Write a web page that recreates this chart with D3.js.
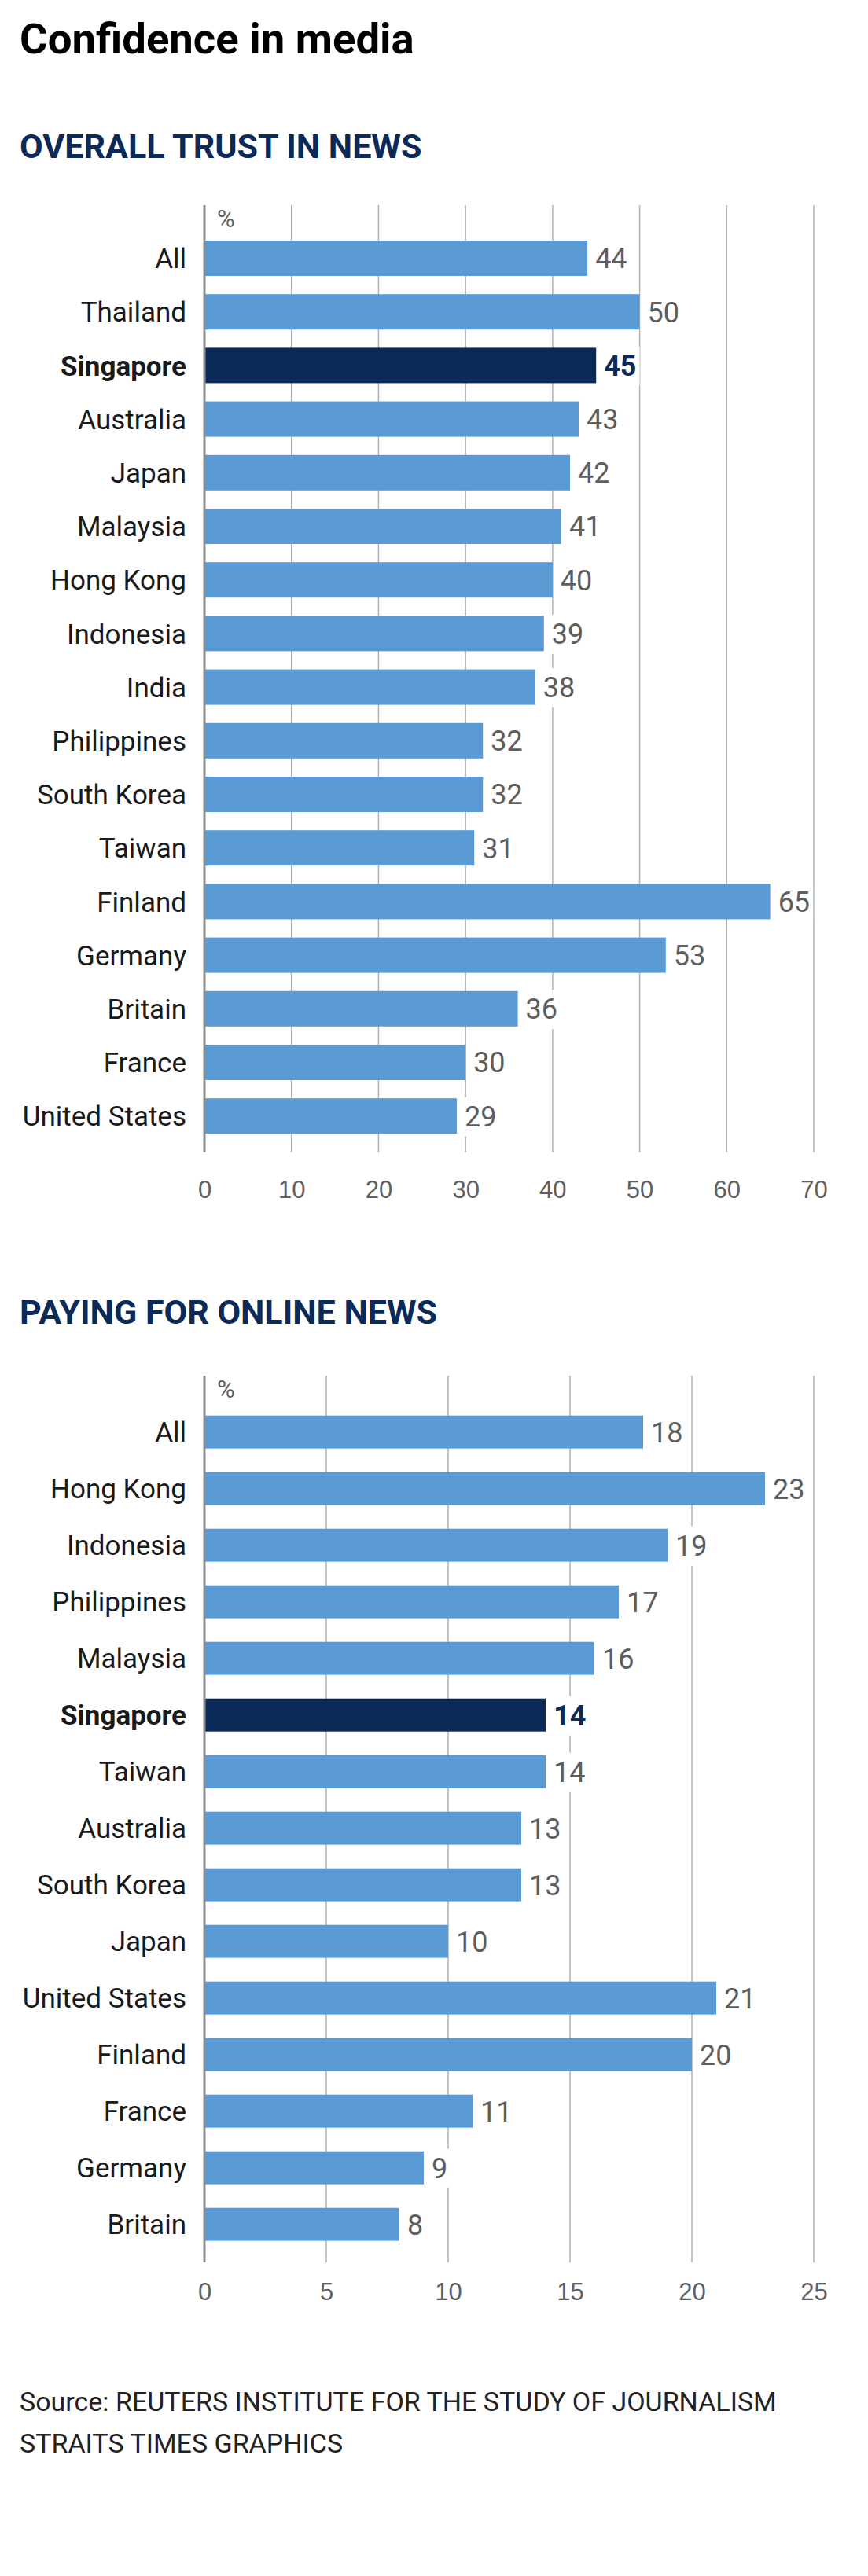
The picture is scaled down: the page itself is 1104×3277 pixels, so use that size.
<!DOCTYPE html>
<html>
<head>
<meta charset="utf-8">
<script src="https://cdn.jsdelivr.net/npm/d3@7"></script>
<style>
  html, body { margin: 0; padding: 0; background: #fff; }
  svg { display: block; font-family: Roboto, "Open Sans", "Liberation Sans", sans-serif; }
</style>
</head>
<body>
<svg id="chart" width="1104" height="3277"></svg>
<script>
// ---------- DATA ----------
const title = "Confidence in media";
const trustTitle = "OVERALL TRUST IN NEWS";
const trustCategories = ["All", "Thailand", "Singapore", "Australia", "Japan", "Malaysia", "Hong Kong", "Indonesia", "India", "Philippines", "South Korea", "Taiwan", "Finland", "Germany", "Britain", "France", "United States"];
const trustValues = [44, 50, 45, 43, 42, 41, 40, 39, 38, 32, 32, 31, 65, 53, 36, 30, 29];
const trustTicks = [0, 10, 20, 30, 40, 50, 60, 70];

const payTitle = "PAYING FOR ONLINE NEWS";
const payCategories = ["All", "Hong Kong", "Indonesia", "Philippines", "Malaysia", "Singapore", "Taiwan", "Australia", "South Korea", "Japan", "United States", "Finland", "France", "Germany", "Britain"];
const payValues = [18, 23, 19, 17, 16, 14, 14, 13, 13, 10, 21, 20, 11, 9, 8];
const payTicks = [0, 5, 10, 15, 20, 25];

const highlighted = "Singapore";
const unitLabel = "%";
const sourceLines = ["Source: REUTERS INSTITUTE FOR THE STUDY OF JOURNALISM", "STRAITS TIMES GRAPHICS"];

// ---------- STYLE ----------
const C = {
  bar: "#5b9bd5",
  hi: "#0c2a57",
  heading: "#0c2a57",
  label: "#1a1a1a",
  value: "#5e5e5e",
  tick: "#606060",
  grid: "#b0b0b0",
  axis: "#8c8c8c"
};

const svg = d3.select("#chart");
svg.append("rect").attr("width", 1104).attr("height", 3277).attr("fill", "#fff");

svg.append("text").attr("x", 25).attr("y", 68)
  .attr("font-size", 54.5).attr("font-weight", 700).attr("fill", "#000")
  .text(title);

function drawChart(cfg) {
  const g = svg.append("g");
  g.append("text").attr("x", 25).attr("y", cfg.headY)
    .attr("font-size", 43).attr("font-weight", 700).attr("fill", C.heading)
    .text(cfg.heading);

  const x = d3.scaleLinear().domain([0, cfg.ticks[cfg.ticks.length - 1]]).range([260, 1035]);
  const y = d3.scaleBand().domain(cfg.cats).range([cfg.bandTop, cfg.bandTop + cfg.step * cfg.cats.length])
    .paddingInner(cfg.pad).paddingOuter(cfg.pad / 2);

  // gridlines
  g.append("g").selectAll("line").data(cfg.ticks.slice(1)).join("line")
    .attr("x1", d => x(d)).attr("x2", d => x(d))
    .attr("y1", cfg.gridTop).attr("y2", cfg.gridBottom)
    .attr("stroke", C.grid).attr("stroke-width", 1.5);

  // unit label
  g.append("text").attr("x", 276).attr("y", cfg.unitY).attr("dy", "0.36em")
    .attr("font-size", 31).attr("font-weight", 400).attr("fill", C.tick).text(unitLabel);

  const data = cfg.cats.map((c, i) => ({ c, v: cfg.vals[i] }));

  // bars
  g.append("g").selectAll("rect").data(data).join("rect")
    .attr("x", x(0)).attr("y", d => y(d.c))
    .attr("width", d => x(d.v) - x(0)).attr("height", y.bandwidth())
    .attr("fill", d => d.c === highlighted ? C.hi : C.bar);

  // axis line at zero
  g.append("line").attr("x1", x(0)).attr("x2", x(0))
    .attr("y1", cfg.gridTop).attr("y2", cfg.gridBottom)
    .attr("stroke", C.axis).attr("stroke-width", 3);

  // category labels
  g.append("g").selectAll("text").data(data).join("text")
    .attr("x", 237).attr("y", d => y(d.c) + y.bandwidth() / 2).attr("dy", "0.36em")
    .attr("text-anchor", "end").attr("font-size", 35)
    .attr("font-weight", d => d.c === highlighted ? 700 : 400)
    .attr("fill", C.label).text(d => d.c);

  // value labels with white backing
  const vg = g.append("g").selectAll("g").data(data).join("g");
  const vt = vg.append("text")
    .attr("x", d => x(d.v) + 10).attr("y", d => y(d.c) + y.bandwidth() / 2).attr("dy", "0.36em")
    .attr("font-size", 36)
    .attr("font-weight", d => d.c === highlighted ? 700 : 400)
    .attr("fill", d => d.c === highlighted ? C.hi : C.value).text(d => d.v);
  vt.each(function () {
    const b = this.getBBox();
    d3.select(this.parentNode).insert("rect", "text")
      .attr("x", b.x - 6).attr("y", b.y - 4).attr("width", b.width + 10).attr("height", b.height + 8)
      .attr("fill", "#fff");
  });

  // x axis tick labels
  const axis = d3.axisBottom(x).tickValues(cfg.ticks).tickSize(0).tickPadding(0).tickFormat(d3.format("d"));
  const ag = g.append("g").attr("transform", `translate(0,${cfg.tickY})`).call(axis);
  ag.select(".domain").remove();
  ag.selectAll("text").attr("font-size", 31).attr("font-weight", 400).attr("fill", C.tick)
    .attr("font-family", null).attr("dy", "0.36em").attr("y", 0);
}

drawChart({
  heading: trustTitle, headY: 201,
  cats: trustCategories, vals: trustValues, ticks: trustTicks,
  bandTop: 294.4, step: 68.2, pad: 0.34,
  gridTop: 261, gridBottom: 1466, unitY: 278, tickY: 1513
});

drawChart({
  heading: payTitle, headY: 1684,
  cats: payCategories, vals: payValues, ticks: payTicks,
  bandTop: 1785.7, step: 72, pad: 0.417,
  gridTop: 1750, gridBottom: 2878, unitY: 1767, tickY: 2915
});

svg.append("g").selectAll("text").data(sourceLines).join("text")
  .attr("x", 25).attr("y", (d, i) => 3067 + i * 53)
  .attr("font-size", 34).attr("font-weight", 400).attr("fill", "#222")
  .text(d => d);
</script>
</body>
</html>
